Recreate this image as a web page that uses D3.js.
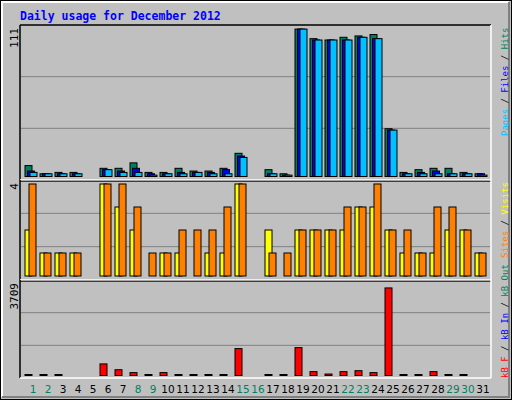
<!DOCTYPE html>
<html><head><meta charset="utf-8">
<script src="https://cdn.jsdelivr.net/npm/d3@7"></script>
<style>body{margin:0;background:#fff}</style></head>
<body><svg id="c" width="512" height="400"></svg>
<script>
const days = d3.range(1,32);
const weekends = [1,2,8,9,15,16,22,23,29,30];
const hits  = [8,2,3,3,0,6,6,10,3,3,6,4,4,6,17,0,5,2,108,101,100,102,103,104,35,3,5,6,6,3,2];
const files = [4,2,2,2,0,5,4,6,2,2,3,3,3,5,15,0,2,1,108,100,100,100,102,101,34,2,3,4,2,2,2];
const pages = [3,2,2,2,0,5,3,3,1,2,2,3,2,2,14,0,2,1,108,100,100,100,102,101,34,2,2,2,2,2,1];
const visits= [2,1,1,1,0,4,3,2,0,1,1,0,1,1,4,0,2,0,2,2,2,2,3,3,2,1,1,1,2,2,1];
const sites = [4,1,1,1,0,4,4,3,1,1,2,2,2,3,4,0,1,1,2,2,2,3,3,4,2,2,1,3,3,2,1];
const kbytes= [30,30,30,0,0,470,234,117,30,117,30,30,30,30,1090,0,30,30,1130,156,60,156,195,117,3550,30,30,156,30,30,0];
const yMax = [111,4,3709];

const svg = d3.select('#c');
svg.append('rect').attr('x',0.5).attr('y',0.5).attr('width',511).attr('height',399).attr('fill','#c0c0c0').attr('stroke','#000');
svg.append('path').attr('d','M2,397V2H509').attr('fill','none').attr('stroke','#fff').attr('stroke-width',2);
svg.append('path').attr('d','M2,397H509V2').attr('fill','none').attr('stroke','#808080').attr('stroke-width',2);
svg.append('text').attr('x',20).attr('y',20).text('Daily usage for December 2012')
  .attr('font-family','DejaVu Sans Mono').attr('font-weight','bold').attr('font-size',11.5).attr('fill','#0000ff');

const x = d3.scaleLinear().domain([1,31]).range([31,481]);
const L=20,R=491;
const panels=[{top:25,bot:180,base:176.5,pad:0},{top:180,bot:280,base:276,pad:4},{top:280,bot:378,base:375.5,pad:4}];
panels.forEach((p,i)=>{
  const h=p.bot-p.top;
  [1/3,2/3].forEach(f=>svg.append('line').attr('x1',L+1).attr('x2',R-1).attr('y1',p.top+h*f).attr('y2',p.top+h*f).attr('stroke','#808080'));
  svg.append('line').attr('x1',L).attr('x2',R).attr('y1',p.top).attr('y2',p.top).attr('stroke',i==0?'#000':'#fff').attr('stroke-width',1.5);
  svg.append('line').attr('x1',L).attr('x2',R).attr('y1',p.top+1.2).attr('y2',p.top+1.2).attr('stroke',i==0?'none':'#000');
  svg.append('line').attr('x1',L).attr('x2',L).attr('y1',p.top).attr('y2',p.bot).attr('stroke','#000').attr('stroke-width',1.5);
  svg.append('line').attr('x1',R).attr('x2',R).attr('y1',p.top).attr('y2',p.bot).attr('stroke','#fff').attr('stroke-width',1.5);
  svg.append('text').attr('transform',`translate(18,${p.top+3}) rotate(-90)`).attr('text-anchor','end')
    .attr('font-family','DejaVu Sans Mono').attr('font-size',11).text(yMax[i]);
});
svg.append('line').attr('x1',L).attr('x2',R).attr('y1',378).attr('y2',378).attr('stroke','#fff').attr('stroke-width',1.5);

function bars(data,pi,color,off,w,minH){
  const p=panels[pi];
  const y=d3.scaleLinear().domain([0,yMax[pi]]).range([p.base,p.top+p.pad]);
  svg.append('g').selectAll('rect').data(days).join('rect')
    .filter(d=>data[d-1]>0)
    .attr('x',d=>x(d)+off).attr('width',w)
    .attr('y',d=>Math.min(y(data[d-1]),p.base-minH))
    .attr('height',d=>Math.max(p.base-y(data[d-1]),minH))
    .attr('fill',color).attr('stroke','#000');
}
bars(hits,0,'#008060',-6,7,1);
bars(files,0,'#0000ff',-3.5,7,1);
bars(pages,0,'#00c0ff',-1,7,1);
bars(visits,1,'#ffff00',-6,7,1);
bars(sites,1,'#ff8000',-2,7,1);
bars(kbytes,2,'#ff0000',-6,7,1);

svg.append('g').selectAll('text').data(days).join('text')
  .attr('x',d=>x(d)+2).attr('y',393).attr('text-anchor','middle')
  .attr('font-family','DejaVu Sans').attr('font-size',10.5)
  .attr('fill',d=>weekends.includes(d)?'#008060':'#000').text(d=>d);

function rlabel(yb,parts){
  const t=svg.append('text').attr('transform',`translate(508,${yb}) rotate(-90)`)
    .attr('font-family','DejaVu Sans Mono').attr('font-size',9);
  parts.forEach(([s,c])=>t.append('tspan').attr('fill',c).text(s));
}
rlabel(136,[['Pages','#00c0ff'],[' / ','#000'],['Files','#0000ff'],[' / ','#000'],['Hits','#008060']]);
rlabel(258,[['Sites','#ff8000'],[' / ','#000'],['Visits','#ffff00']]);
rlabel(378,[['kB F','#ff0000'],[' / ','#000'],['kB In','#0000ff'],[' / ','#000'],['kB Out','#008060']]);
</script></body></html>
